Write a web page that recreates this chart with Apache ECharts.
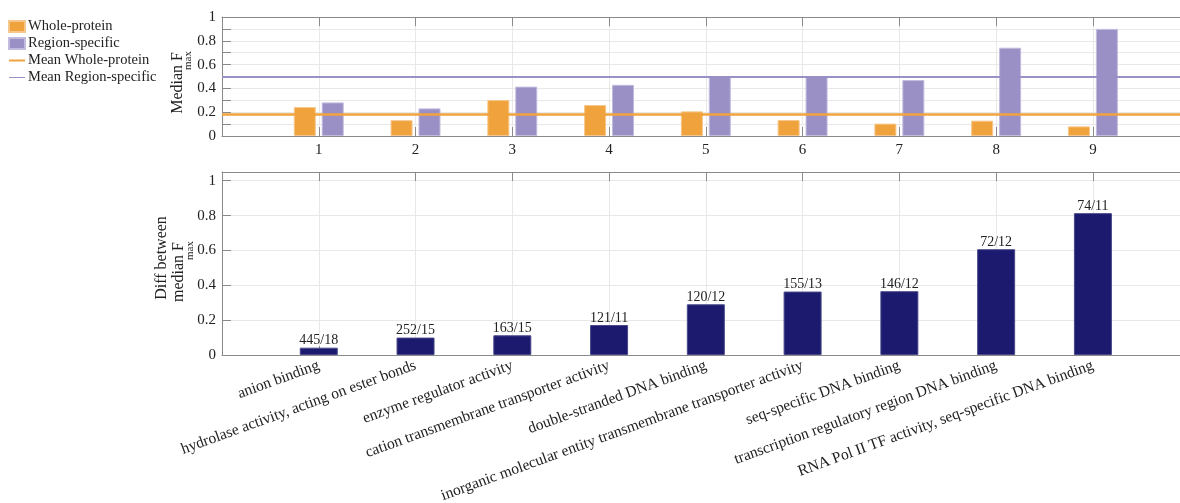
<!DOCTYPE html>
<html>
<head>
<meta charset="utf-8">
<script src="https://cdn.jsdelivr.net/npm/echarts@6/dist/echarts.min.js"></script>
<style>
  html, body { margin: 0; padding: 0; background: #fff; }
  #chart { width: 1180px; height: 503px; }
</style>
</head>
<body>
<div id="chart"></div>
<script>
// data
const positions = [1, 2, 3, 4, 5, 6, 7, 8, 9]
const wholeProtein = [0.243, 0.133, 0.302, 0.26, 0.207, 0.134, 0.104, 0.129, 0.081]
const regionSpecific = [0.282, 0.232, 0.415, 0.43, 0.5, 0.5, 0.47, 0.742, 0.9]
const meanWhole = 0.177
const meanRegion = 0.497
const categories = [
  'anion binding',
  'hydrolase activity, acting on ester bonds',
  'enzyme regulator activity',
  'cation transmembrane transporter activity',
  'double-stranded DNA binding',
  'inorganic molecular entity transmembrane transporter activity',
  'seq-specific DNA binding',
  'transcription regulatory region DNA binding',
  'RNA Pol II TF activity, seq-specific DNA binding',
]
const diffValues = [0.042, 0.1, 0.113, 0.172, 0.291, 0.364, 0.366, 0.607, 0.814]
const counts = ['445/18', '252/15', '163/15', '121/11', '120/12', '155/13', '146/12', '72/12', '74/11']

const FONT = 'Liberation Serif'
const FRAME = '#8a8a8a'
const GRID_LINE = '#e8e8e8'
const TEXT = '#222'

function pairs(ys) {
  return positions.map((x, i) => [x, ys[i]])
}

function xAxisBase(grid) {
  return {
    type: 'value',
    gridIndex: grid,
    min: 0,
    max: 9.9,
    interval: 1,
    axisLine: { show: true, lineStyle: { color: FRAME } },
    axisTick: { show: true, inside: true, length: 9, lineStyle: { color: FRAME } },
  }
}

// rotated y-axis titles with a real subscript
function vText(text, x, y, size, align) {
  return {
    type: 'text',
    x: x,
    y: y,
    rotation: Math.PI / 2,
    silent: true,
    style: { text: text, font: size + 'px "' + FONT + '"', fill: TEXT, align: align, verticalAlign: 'middle' },
  }
}

const option = {
  animation: false,
  textStyle: { fontFamily: FONT },
  legend: {
    orient: 'vertical',
    left: 8,
    top: 19,
    padding: 0,
    itemWidth: 16,
    itemHeight: 11,
    itemGap: 2,
    textStyle: { fontFamily: FONT, fontSize: 14.5, color: TEXT, padding: [0, 0, 0, -2] },
    data: [
      { name: 'Whole-protein', icon: 'rect' },
      { name: 'Region-specific', icon: 'rect' },
      { name: 'Mean Whole-protein', icon: 'path://M0,0L0.01,0M0,11L0.01,11M0,4.5H16V6.5H0Z' },
      { name: 'Mean Region-specific', icon: 'path://M0,0L0.01,0M0,11L0.01,11M0,5H16V6H0Z' },
    ],
  },
  graphic: [
    vText('Median F', 177.5, 52, 16, 'right'),
    vText('max', 188.5, 51, 11, 'right'),
    vText('Diff between', 162, 258, 16, 'center'),
    vText('median F', 179, 242, 16, 'right'),
    vText('max', 190, 241, 11, 'right'),
  ],
  grid: [
    { left: 222, top: 17, right: 0, height: 119, outerBoundsMode: 'none' },
    { left: 222, top: 172, right: 0, height: 183, outerBoundsMode: 'none' },
  ],
  xAxis: [
    {
      ...xAxisBase(0),
      axisLabel: {
        margin: 7,
        fontFamily: FONT,
        fontSize: 15,
        color: TEXT,
        formatter: (v) => (v >= 1 && v <= 9 ? String(v) : ''),
      },
      splitLine: { show: true, lineStyle: { color: GRID_LINE } },
    },
    {
      ...xAxisBase(0),
      position: 'top',
      axisLabel: { show: false },
      splitLine: { show: false },
    },
    {
      ...xAxisBase(1),
      axisLabel: {
        margin: 10,
        rotate: 20,
        fontFamily: FONT,
        fontSize: 15.5,
        color: TEXT,
        formatter: (v) => categories[v - 1] || '',
      },
      splitLine: { show: true, lineStyle: { color: GRID_LINE } },
    },
    {
      ...xAxisBase(1),
      position: 'top',
      axisLabel: { show: false },
      splitLine: { show: false },
    },
  ],
  yAxis: [
    {
      type: 'value',
      gridIndex: 0,
      min: 0,
      max: 1,
      interval: 0.2,
      axisLine: { show: true, lineStyle: { color: FRAME } },
      axisTick: { show: true, inside: true, length: 9, lineStyle: { color: FRAME } },
      minorTick: { show: true, splitNumber: 2, length: 9, lineStyle: { color: FRAME } },
      minorSplitLine: { show: true, lineStyle: { color: GRID_LINE } },
      splitLine: { show: true, lineStyle: { color: GRID_LINE } },
      axisLabel: {
        margin: 6,
        fontFamily: FONT,
        fontSize: 15,
        color: TEXT,
        formatter: (v) => String(+v.toFixed(1)),
      },
    },
    {
      type: 'value',
      gridIndex: 1,
      min: 0,
      max: 1.05,
      interval: 0.2,
      axisLine: { show: true, lineStyle: { color: FRAME } },
      axisTick: { show: true, inside: true, length: 9, lineStyle: { color: FRAME } },
      splitLine: { show: true, lineStyle: { color: GRID_LINE } },
      axisLabel: {
        margin: 6,
        fontFamily: FONT,
        fontSize: 15,
        color: TEXT,
        showMaxLabel: false,
        formatter: (v) => String(+v.toFixed(1)),
      },
    },
  ],
  series: [
    {
      name: 'Whole-protein',
      type: 'bar',
      xAxisIndex: 0,
      yAxisIndex: 0,
      data: pairs(wholeProtein),
      barWidth: 22,
      barGap: '27%',
      itemStyle: { color: '#f0a33c', borderColor: '#f6c78c', borderWidth: 1 },
      z: 2,
    },
    {
      name: 'Region-specific',
      type: 'bar',
      xAxisIndex: 0,
      yAxisIndex: 0,
      data: pairs(regionSpecific),
      barWidth: 22,
      barGap: '27%',
      itemStyle: { color: '#9a90c5', borderColor: '#c2bbdd', borderWidth: 1 },
      z: 2,
    },
    {
      name: 'Mean Whole-protein',
      type: 'line',
      xAxisIndex: 0,
      yAxisIndex: 0,
      data: [],
      symbol: 'none',
      itemStyle: { color: '#f0a33c' },
      lineStyle: { color: '#f0a33c', width: 2 },
      markLine: {
        silent: true,
        symbol: 'none',
        label: { show: false },
        lineStyle: { color: '#f0a33c', width: 2.5, type: 'solid' },
        data: [{ yAxis: meanWhole }],
      },
      z: 5,
    },
    {
      name: 'Mean Region-specific',
      type: 'line',
      xAxisIndex: 0,
      yAxisIndex: 0,
      data: [],
      symbol: 'none',
      itemStyle: { color: '#9a90c5' },
      lineStyle: { color: '#9a90c5', width: 1 },
      markLine: {
        silent: true,
        symbol: 'none',
        label: { show: false },
        lineStyle: { color: '#9a90c5', width: 2, type: 'solid' },
        data: [{ yAxis: meanRegion }],
      },
      z: 5,
    },
    {
      name: 'Diff',
      type: 'bar',
      xAxisIndex: 2,
      yAxisIndex: 1,
      data: pairs(diffValues),
      barWidth: 38,
      itemStyle: { color: '#1b1a6e', borderColor: '#4a4a8a', borderWidth: 1 },
      label: {
        show: true,
        position: 'top',
        distance: 0,
        fontFamily: FONT,
        fontSize: 14,
        color: TEXT,
        formatter: (p) => counts[p.dataIndex],
      },
    },
  ],
}

const chart = echarts.init(document.getElementById('chart'))
chart.setOption(option)
window.addEventListener('resize', () => chart.resize())
</script>
</body>
</html>
